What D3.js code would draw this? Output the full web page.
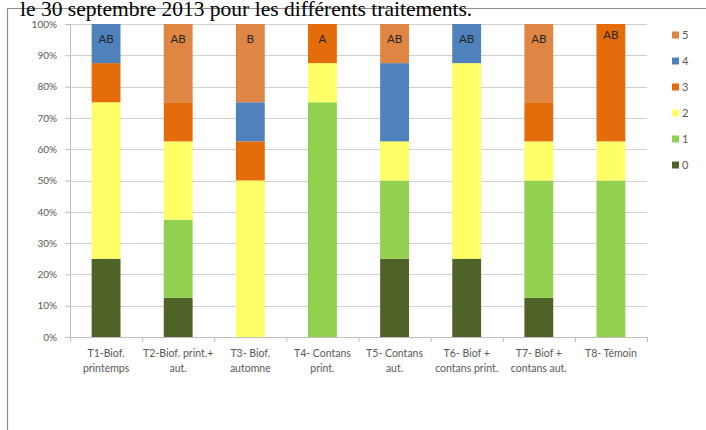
<!DOCTYPE html>
<html><head><meta charset="utf-8">
<script src="https://cdn.jsdelivr.net/npm/d3@7/dist/d3.min.js"></script>
<style>body{margin:0;background:#fff;}svg{display:block;}</style>
</head><body>
<svg id="c" width="706" height="430"></svg>
<script>
const categories = [
  ["T1-Biof.","printemps"],
  ["T2-Biof. print.+","aut."],
  ["T3- Biof.","automne"],
  ["T4- Contans","print."],
  ["T5- Contans","aut."],
  ["T6- Biof +","contans print."],
  ["T7- Biof +","contans aut."],
  ["T8- Témoin"]
];
const classes = ["0","1","2","3","4","5"];
const s0 = [25, 12.5, 0, 0, 25, 25, 12.5, 0];
const s1 = [0, 25, 0, 75, 25, 0, 37.5, 50];
const s2 = [50, 25, 50, 12.5, 12.5, 62.5, 12.5, 12.5];
const s3 = [12.5, 12.5, 12.5, 12.5, 0, 0, 12.5, 37.5];
const s4 = [12.5, 0, 12.5, 0, 25, 12.5, 0, 0];
const s5 = [0, 25, 25, 0, 12.5, 0, 25, 0];
const letters = ["AB","AB","B","A","AB","AB","AB","AB"];
const yTicks = [0,10,20,30,40,50,60,70,80,90,100];
const colors = ["#4f6228","#92d050","#ffff66","#e46c0a","#4f81bd","#df8645"];
const title = "le 30 septembre 2013 pour les différents traitements.";

const series = [s0,s1,s2,s3,s4,s5];
const rows = categories.map((c,i)=>{const r={i}; classes.forEach((k,j)=>r[k]=series[j][i]); return r;});
const stack = d3.stack().keys(classes)(rows);

const svg = d3.select("#c");
const font = "Lato, 'Open Sans', sans-serif";
const m = {l:70, r:647, t:24, b:337};
const x = d3.scaleBand().domain(d3.range(categories.length)).range([m.l,m.r]).paddingInner(0.6).paddingOuter(0.3);
const xb = d3.scaleLinear().domain([0,categories.length]).range([m.l,m.r]);
const y = d3.scaleLinear().domain([0,100]).range([m.b,m.t]);

// frame
svg.append("line").attr("x1",7.5).attr("x2",706).attr("y1",8.5).attr("y2",8.5).attr("stroke","#8c8c8c").attr("stroke-width",1);
svg.append("line").attr("x1",7.5).attr("x2",7.5).attr("y1",8.5).attr("y2",430).attr("stroke","#8c8c8c").attr("stroke-width",1.2);

// grid
svg.append("g").selectAll("line").data(yTicks.filter(d=>d>0)).join("line")
  .attr("x1",m.l).attr("x2",m.r).attr("y1",d=>Math.round(y(d))+0.5).attr("y2",d=>Math.round(y(d))+0.5)
  .attr("stroke","#d0d0d0").attr("stroke-width",1.2);

// y axis
const ya = svg.append("g").attr("transform",`translate(${m.l},0)`)
  .call(d3.axisLeft(y).tickValues(yTicks).tickFormat(d=>d+"%").tickSize(5).tickPadding(8));
ya.select(".domain").attr("stroke","#bfbfbf");
ya.selectAll(".tick line").attr("stroke","#bfbfbf");
ya.selectAll("text").attr("fill","#595959").style("font-family",font).style("font-size","10px");

// bars
svg.append("g").selectAll("g").data(stack).join("g").attr("fill",(d,i)=>colors[i])
  .selectAll("rect").data(d=>d).join("rect")
  .attr("x",(d,i)=>x(i)).attr("width",x.bandwidth())
  .attr("y",d=>y(d[1])).attr("height",d=>y(d[0])-y(d[1]));

// x axis
const xa = svg.append("g").attr("transform",`translate(0,${m.b})`)
  .call(d3.axisBottom(xb).tickValues(d3.range(categories.length+1)).tickFormat("").tickSize(5));
xa.select(".domain").attr("stroke","#bfbfbf");
xa.selectAll(".tick line").attr("stroke","#bfbfbf");

// x labels
const xl = svg.append("g").selectAll("text").data(categories).join("text")
  .attr("text-anchor","middle").attr("fill","#595959")
  .style("font-family",font).style("font-size","10.5px");
xl.each(function(c,i){
  const t=d3.select(this);
  c.forEach((line,j)=>t.append("tspan").attr("x",x(i)+x.bandwidth()/2).attr("y",357+j*15).text(line));
});

// letters
svg.append("g").selectAll("text").data(letters).join("text")
  .attr("x",(d,i)=>x(i)+x.bandwidth()/2).attr("y",(d,i)=>i===7?39:43)
  .attr("text-anchor","middle").attr("fill","#262626")
  .style("font-family",font).style("font-size","11.5px").text(d=>d);

// legend
const lg = svg.append("g").selectAll("g").data(classes.slice().reverse()).join("g")
  .attr("transform",(d,i)=>`translate(672,${35+i*26})`);
lg.append("rect").attr("x",0).attr("y",-3.5).attr("width",7).attr("height",7).attr("fill",(d)=>colors[+d]);
lg.append("text").attr("x",10).attr("y",4).attr("fill","#595959").style("font-family",font).style("font-size","11px").text(d=>d);

// title
svg.append("text").attr("x",20).attr("y",16).attr("fill","#000")
  .style("font-family","'Liberation Serif', 'Times New Roman', serif").style("font-size","21.5px").text(title);
</script>
</body></html>
